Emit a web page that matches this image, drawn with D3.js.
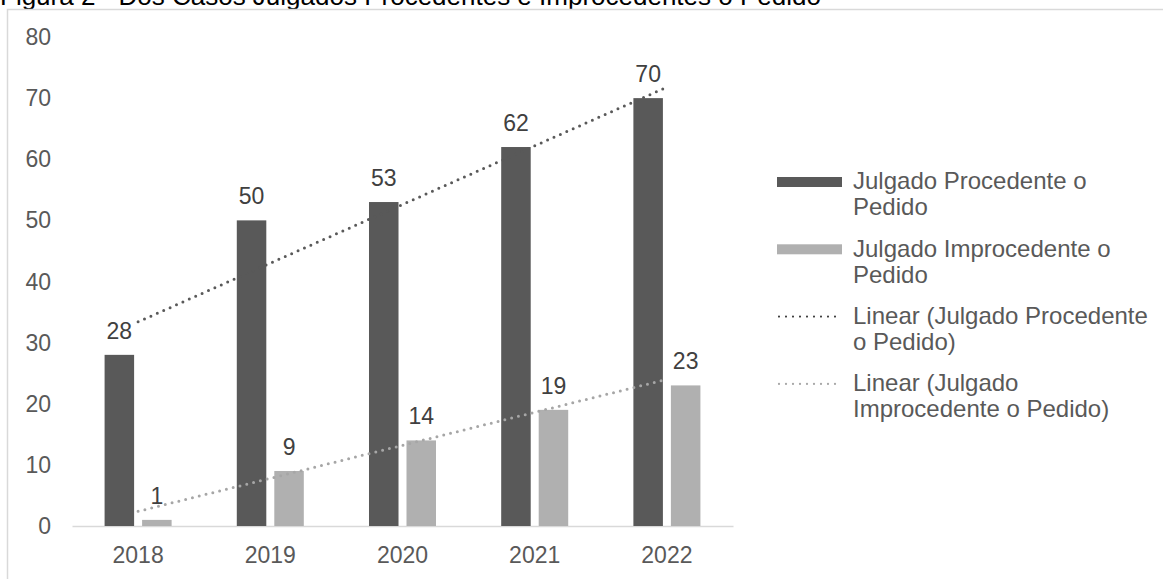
<!DOCTYPE html>
<html>
<head>
<meta charset="utf-8">
<script src="https://cdn.jsdelivr.net/npm/d3@7/dist/d3.min.js"></script>
<style>
  html, body { margin: 0; padding: 0; background: #fff; }
  svg { display: block; font-family: "Liberation Sans", Arial, sans-serif; }
</style>
</head>
<body>
<div id="chart"></div>
<script>
const years = ['2018', '2019', '2020', '2021', '2022'];
const procedente = [28, 50, 53, 62, 70];
const improcedente = [1, 9, 14, 19, 23];
const yTicks = [0, 10, 20, 30, 40, 50, 60, 70, 80];
const seriesNames = ['Julgado Procedente o Pedido', 'Julgado Improcedente o Pedido'];
const titleText = 'Figura 2 - Dos Casos Julgados Procedentes e Improcedentes o Pedido';

const W = 1163, H = 579;
const DARK = '#595959', LIGHT = '#b0b0b0';

const svg = d3.select('#chart').append('svg')
    .attr('width', W)
    .attr('height', H);

// title, cut off by the top of the picture
svg.append('text')
    .attr('x', 0)
    .attr('y', 5)
    .attr('font-size', 26)
    .attr('fill', '#000')
    .text(titleText);

// outer chart frame
svg.append('rect')
    .attr('x', 7.5)
    .attr('y', 9.5)
    .attr('width', W)
    .attr('height', H)
    .attr('fill', 'none')
    .attr('stroke', '#d9d9d9')
    .attr('stroke-width', 1.5);

const x = d3.scaleBand().domain(years).range([72, 733]);
const y = d3.scaleLinear().domain([0, 80]).range([526, 37]);
const x1 = d3.scaleBand().domain([0, 1]).range([0, x.bandwidth()])
    .paddingInner(0.213).paddingOuter(0.869);

// y tick labels (no axis line, no grid)
svg.append('g').selectAll('text')
    .data(yTicks)
    .join('text')
    .attr('x', 51)
    .attr('y', d => y(d))
    .attr('dy', '0.35em')
    .attr('text-anchor', 'end')
    .attr('font-size', 23)
    .attr('fill', DARK)
    .text(d => d);

// x axis
const xAxis = svg.append('g')
    .attr('transform', `translate(0,${y(0)})`)
    .call(d3.axisBottom(x).tickSize(0).tickPadding(0));
xAxis.select('.domain').attr('stroke', '#d9d9d9').attr('stroke-width', 1.5);
xAxis.selectAll('text')
    .attr('y', 37)
    .attr('dy', 0)
    .attr('font-size', 23)
    .attr('font-family', '"Liberation Sans", Arial, sans-serif')
    .attr('fill', DARK);

const series = [procedente, improcedente];
const colors = [DARK, LIGHT];

series.forEach((vals, si) => {
    const rows = years.map((yr, i) => ({ yr, v: vals[i] }));
    svg.append('g').selectAll('rect')
        .data(rows)
        .join('rect')
        .attr('x', d => x(d.yr) + x1(si))
        .attr('y', d => y(d.v))
        .attr('width', x1.bandwidth())
        .attr('height', d => y(0) - y(d.v))
        .attr('fill', colors[si]);
});

// linear trendlines (least squares over the category index)
function fit(vals) {
    const n = vals.length;
    const xs = vals.map((_, i) => i + 1);
    const mx = d3.mean(xs), my = d3.mean(vals);
    const b = d3.sum(xs, (xi, i) => (xi - mx) * (vals[i] - my)) / d3.sum(xs, xi => (xi - mx) ** 2);
    const a = my - b * mx;
    return [a + b * 1, a + b * n];
}
const trendColors = ['#595959', '#a6a6a6'];
series.forEach((vals, si) => {
    const [v0, v1] = fit(vals);
    const cx0 = x(years[0]) + x.bandwidth() / 2;
    const cx1 = x(years[years.length - 1]) + x.bandwidth() / 2;
    svg.append('line')
        .attr('x1', cx0).attr('y1', y(v0))
        .attr('x2', cx1).attr('y2', y(v1))
        .attr('stroke', trendColors[si])
        .attr('stroke-width', 3)
        .attr('stroke-linecap', 'round')
        .attr('stroke-dasharray', '0 7');
});

// value labels
series.forEach((vals, si) => {
    svg.append('g').selectAll('text')
        .data(years.map((yr, i) => ({ yr, v: vals[i] })))
        .join('text')
        .attr('x', d => x(d.yr) + x1(si) + x1.bandwidth() / 2)
        .attr('y', d => y(d.v) - 16)
        .attr('text-anchor', 'middle')
        .attr('font-size', 23)
        .attr('fill', '#404040')
        .text(d => d.v);
});

// legend
const legendItems = [
    { kind: 'bar', color: DARK, lines: ['Julgado Procedente o', 'Pedido'] },
    { kind: 'bar', color: LIGHT, lines: ['Julgado Improcedente o', 'Pedido'] },
    { kind: 'dot', color: '#404040', lines: ['Linear (Julgado Procedente', 'o Pedido)'] },
    { kind: 'dot', color: '#a6a6a6', lines: ['Linear (Julgado', 'Improcedente o Pedido)'] }
];
const lg = svg.append('g');
legendItems.forEach((it, i) => {
    const cy = 181 + i * 67.3;
    if (it.kind === 'bar') {
        lg.append('rect')
            .attr('x', 777).attr('y', cy - 4)
            .attr('width', 65).attr('height', 10)
            .attr('fill', it.color);
    } else {
        lg.append('line')
            .attr('x1', 779).attr('x2', 842)
            .attr('y1', cy + 1).attr('y2', cy + 1)
            .attr('stroke', it.color)
            .attr('stroke-width', 2.2)
            .attr('stroke-linecap', 'round')
            .attr('stroke-dasharray', '0 7');
    }
    const t = lg.append('text')
        .attr('x', 853)
        .attr('y', cy)
        .attr('font-size', 24)
        .attr('fill', DARK);
    it.lines.forEach((ln, j) => {
        t.append('tspan')
            .attr('x', 853)
            .attr('dy', j === 0 ? '0.35em' : 26)
            .text(ln);
    });
});
</script>
</body>
</html>
